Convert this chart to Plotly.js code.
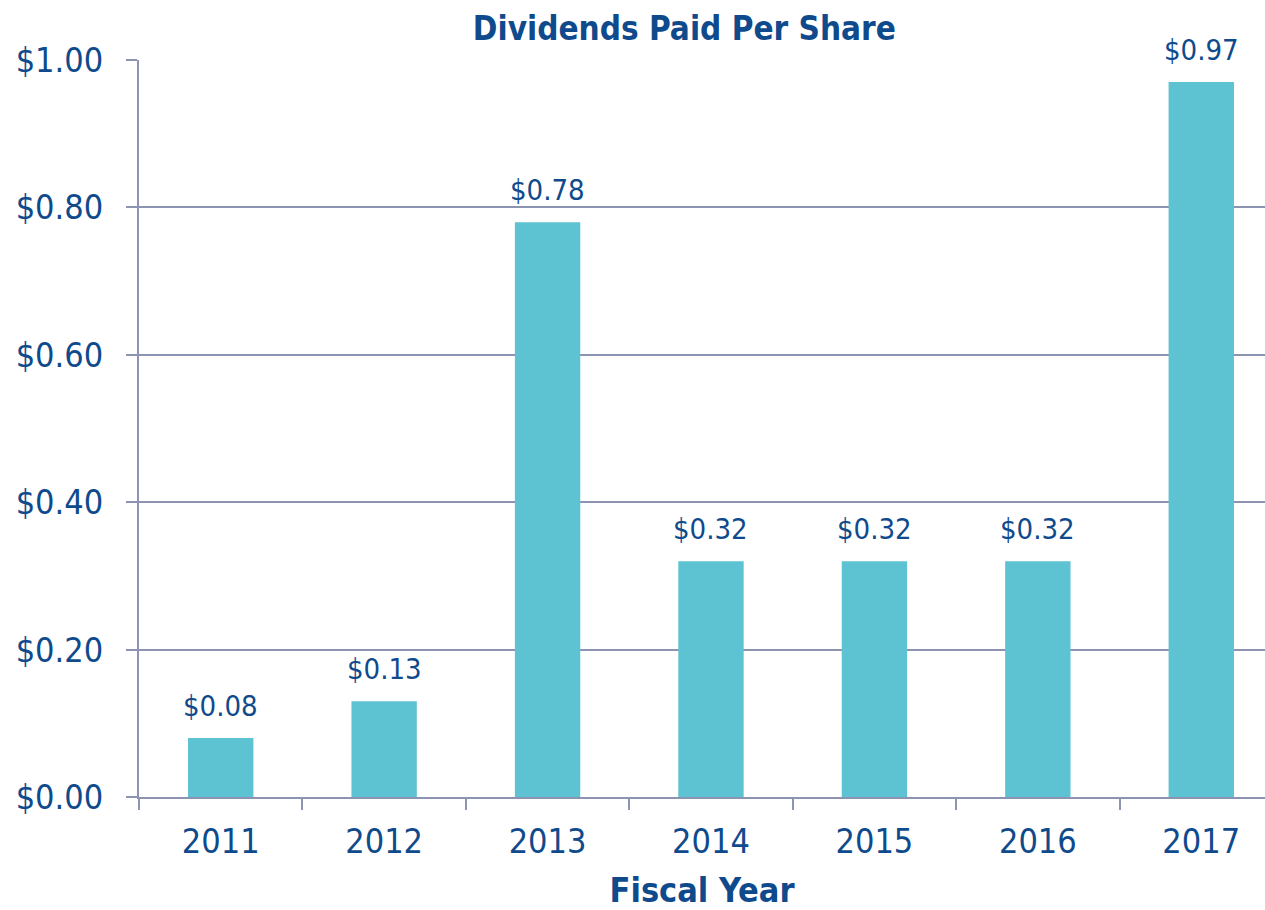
<!DOCTYPE html>
<html>
<head>
<meta charset="utf-8">
<script src="https://cdn.plot.ly/plotly-3.0.1.min.js"></script>
<style>html,body{margin:0;padding:0;background:#fff;}#chart{width:1265px;height:910px;}</style>
</head>
<body>
<div id="chart"></div>
<script>
const years = ['2011','2012','2013','2014','2015','2016','2017'];
const dividends = [0.08, 0.13, 0.78, 0.32, 0.32, 0.32, 0.97];
const yTickVals = [0, 0.2, 0.4, 0.6, 0.8, 1.0];
const yTickText = ['$0.00','$0.20','$0.40','$0.60','$0.80','$1.00'];

const textColor = '#0F4A8C';
const barColor = '#5DC2D1';
const lineColor = '#8D94B2';
const font = 'DejaVu Sans Condensed, DejaVu Sans, sans-serif';

const trace = {
  type: 'bar',
  x: years,
  y: dividends,
  marker: {color: barColor},
  hoverinfo: 'none'
};

const annotations = years.map((yr, i) => ({
  x: i, y: dividends[i], xref: 'x', yref: 'y',
  text: '$' + dividends[i].toFixed(2),
  showarrow: false, yanchor: 'bottom', yshift: 13,
  font: {family: font, size: 29, color: textColor}
}));

const layout = {
  width: 1265, height: 910,
  margin: {l: 139, r: 0, t: 60, b: 113},
  paper_bgcolor: '#fff', plot_bgcolor: '#fff',
  showlegend: false,
  bargap: 0.6,
  title: {
    text: '<b>Dividends Paid Per Share</b>',
    font: {family: font, size: 33, color: textColor},
    x: 0.541, xanchor: 'center', xref: 'container',
    y: 0.969, yanchor: 'middle', yref: 'container'
  },
  xaxis: {
    type: 'category',
    range: [-0.5, 6.39],
    autorange: false,
    showline: true, linecolor: lineColor, linewidth: 2,
    ticks: 'outside', tickson: 'boundaries', ticklen: 11, tickcolor: lineColor, tickwidth: 2,
    tickfont: {family: font, size: 34, color: textColor},
    tickangle: 0,
    ticklabelstandoff: 13,
    showgrid: false,
    title: {text: '<b>Fiscal Year</b>', font: {family: font, size: 34, color: textColor}, standoff: 23}
  },
  yaxis: {
    range: [0, 1.0],
    autorange: false,
    tickvals: yTickVals, ticktext: yTickText,
    showline: true, linecolor: lineColor, linewidth: 2,
    ticks: 'outside', ticklen: 11, tickcolor: lineColor, tickwidth: 2,
    showgrid: true, gridcolor: lineColor, gridwidth: 2,
    zeroline: false,
    tickfont: {family: font, size: 34, color: textColor},
    ticklabelstandoff: 16
  },
  annotations: annotations
};

Plotly.newPlot('chart', [trace], layout, {displayModeBar: false, staticPlot: true});
</script>
</body>
</html>
